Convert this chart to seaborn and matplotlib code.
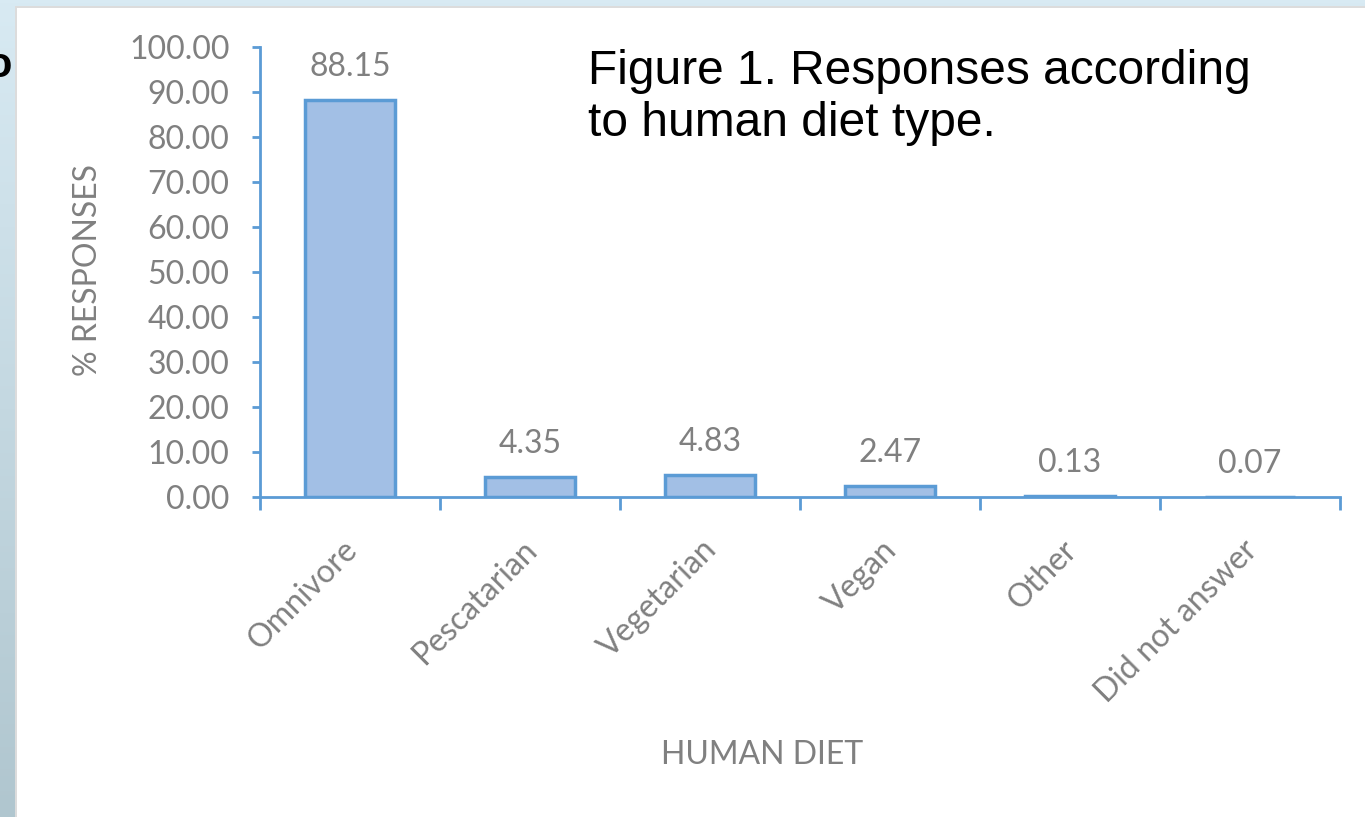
import numpy as np
import pandas as pd
import seaborn as sns
import matplotlib.pyplot as plt
from matplotlib.patches import Rectangle
import matplotlib.transforms as mtransforms

# data
diets = ["Omnivore", "Pescatarian", "Vegetarian", "Vegan", "Other", "Did not answer"]
pct_responses = [88.15, 4.35, 4.83, 2.47, 0.13, 0.07]

df = pd.DataFrame({"diet": diets, "pct": pct_responses})

sns.set_style("white")
plt.rcParams['font.family'] = ['Lato', 'DejaVu Sans']

W, H = 1365, 817
fig = plt.figure(figsize=(W / 100, H / 100), dpi=100)

# slide-like background: blue strip left/top, white panel
bg = fig.add_axes([0, 0, 1, 1], zorder=-10)
grad = np.linspace(0, 1, 256).reshape(-1, 1)
bg.imshow(grad, aspect='auto', extent=[0, 1, 0, 1],
          cmap=sns.blend_palette(["#b0c6cf", "#d8eaf3"], as_cmap=True), origin='lower')
bg.add_patch(Rectangle((15 / W, 0), 1, 1 - 6 / H, facecolor='#dcdcdc', edgecolor='none'))
bg.add_patch(Rectangle((17 / W, 0), 1, 1 - 8 / H, facecolor='white', edgecolor='none'))
bg.set_xlim(0, 1)
bg.set_ylim(0, 1)
bg.axis('off')

blue = '#5b9bd5'
gray = '#808080'
fs = 23

ax = fig.add_axes([260 / W, 1 - 497 / H, 1080 / W, 450 / H])
ax.set_facecolor('none')
sns.barplot(data=df, x="diet", y="pct", order=diets, color='#a2bfe5',
            edgecolor=blue, linewidth=2.5, width=0.5, saturation=1, ax=ax)

ax.set_xlim(-0.5, len(diets) - 0.5)
ax.set_ylim(0, 100)
ax.set_yticks(np.arange(0, 101, 10))
ax.set_yticklabels([f"{v:.2f}" for v in np.arange(0, 101, 10)], fontsize=fs, color=gray)

ax.set_xticks(range(len(diets)))
ax.set_xticklabels(diets, rotation=45, ha='right', rotation_mode='anchor',
                   fontsize=fs, color=gray)
ax.set_xticks(np.arange(-0.5, len(diets), 1), minor=True)
ax.tick_params(axis='x', which='major', length=0, pad=14, bottom=True)
ax.tick_params(axis='x', which='minor', length=9, width=2, color=blue,
               direction='out', bottom=True)
ax.tick_params(axis='y', length=6, width=2, color=blue, direction='out', pad=16, left=True)
for lbl in ax.get_xticklabels():
    lbl.set_transform(lbl.get_transform() + mtransforms.ScaledTranslation(-0.08, -0.18, fig.dpi_scale_trans))

for s in ['top', 'right']:
    ax.spines[s].set_visible(False)
for s in ['left', 'bottom']:
    ax.spines[s].set_color(blue)
    ax.spines[s].set_linewidth(2)

ax.bar_label(ax.containers[0], labels=[f"{v:.2f}" for v in pct_responses],
             padding=13, fontsize=fs, color=gray)

ax.set_xlabel("")
ax.set_ylabel("")
fig.text(762 / W, 1 - 755 / H, "HUMAN DIET", ha='center', va='center', fontsize=fs, color=gray)
fig.text(88 / W, 1 - 270 / H, "% RESPONSES", ha='center', va='center', rotation=90,
         fontsize=fs, color=gray)

fig.text(588 / W, 1 - 97 / H, "Figure 1. Responses according\nto human diet type.",
         ha='left', va='center', fontsize=34.5, color='black', linespacing=1.2,
         family=['Liberation Sans', 'DejaVu Sans'])

# cropped glyph at the left edge of the reference
fig.text(-14 / W, 1 - 66 / H, "o", ha='left', va='center', fontsize=30, color='black',
         fontweight='bold', family=['Liberation Sans', 'DejaVu Sans'])

fig.savefig("out.png", dpi=100)
